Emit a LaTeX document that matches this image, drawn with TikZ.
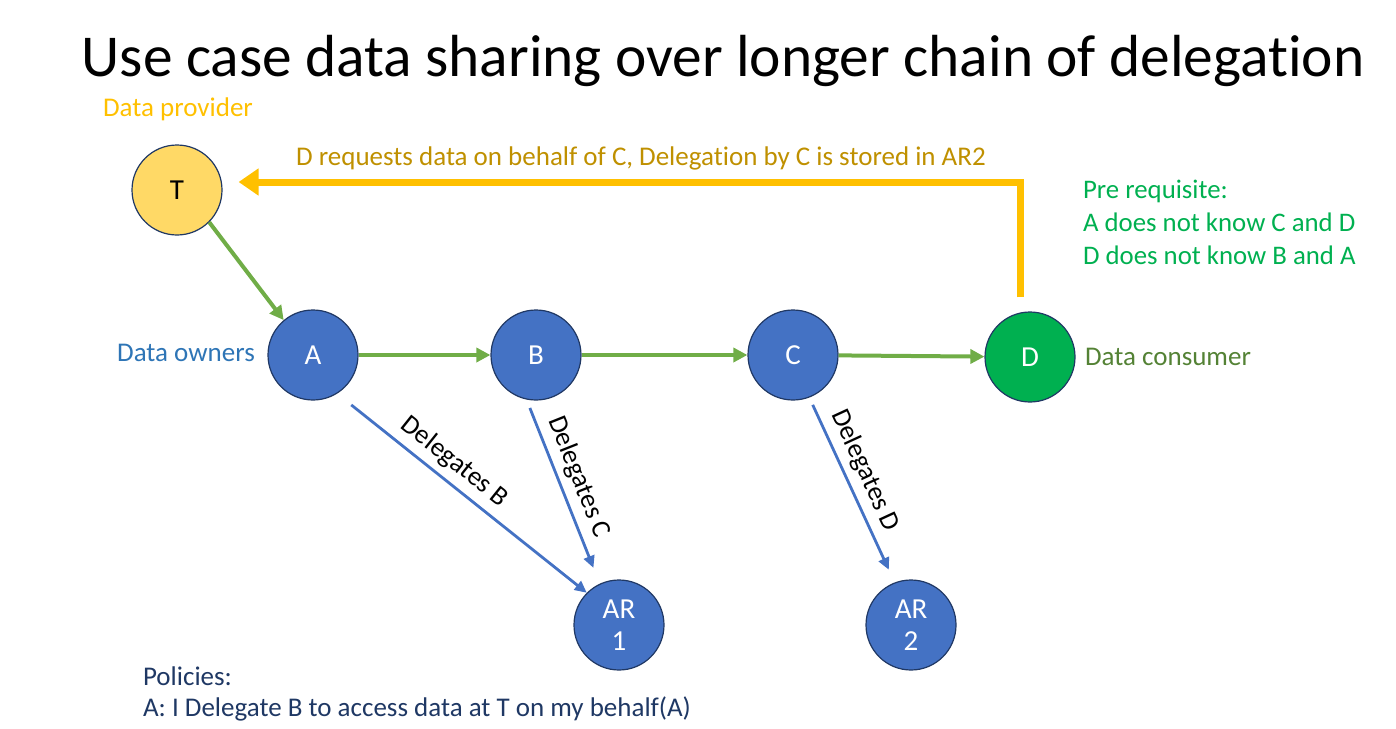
\documentclass[tikz,border=0pt]{standalone}
\usepackage{fontspec}
\setmainfont{Carlito}[Ligatures=NoCommon]
\usetikzlibrary{arrows.meta,calc}
\definecolor{bleu}{HTML}{4472C4}
\definecolor{bordure}{HTML}{203864}
\definecolor{jaune}{HTML}{FFC000}
\definecolor{jaunepale}{HTML}{FFD966}
\definecolor{or}{HTML}{BF9000}
\definecolor{vert}{HTML}{00B050}
\definecolor{vertclair}{HTML}{70AD47}
\definecolor{olive}{HTML}{548235}
\definecolor{bleutexte}{HTML}{2E75B6}
\definecolor{marine}{HTML}{1F3864}
\begin{document}
\begin{tikzpicture}[x=0.5pt,y=-0.5pt]
\tikzset{noeud/.style={draw=bordure, line width=0.6pt, circle, minimum size=45pt, inner sep=0pt, fill=bleu, text=white, font=\fontsize{14.5}{15}\selectfont},
  noeudjaune/.style={noeud, fill=jaunepale, text=black},
  noeudvert/.style={noeud, fill=vert},
  flechevert/.style={draw=vertclair, line width=2pt, -{Triangle[length=7pt,width=7pt]}},
  flechebleu/.style={draw=bleu, line width=1.4pt, -{Triangle[length=6pt,width=5.5pt]}},
  flechejaune/.style={draw=jaune, line width=3.5pt, -{Triangle[length=10pt,width=13pt]}},
  etiquette/.style={font=\fontsize{13.5}{16}\selectfont}}
\useasboundingbox (0,0) rectangle (1396,728);
\node[font=\fontsize{29.7}{34}\selectfont] (titre) at (723,61) {Use case data sharing over longer chain of delegation};
\node[noeudjaune] (T) at (177,190) {T};
\node[noeud] (A) at (313,355) {A};
\node[noeud] (B) at (536,355) {B};
\node[noeud] (C) at (793,355) {C};
\node[noeudvert] (D) at (1030,357) {D};
\node[noeud, align=center, font=\fontsize{14.5}{16}\selectfont] (AR1) at (619,625) {AR\\1};
\node[noeud, align=center, font=\fontsize{14.5}{16}\selectfont] (AR2) at (911,625) {AR\\2};
\node[etiquette, text=jaune] (provider) at (178,109) {Data provider};
\node[etiquette, text=bleutexte] (owners) at (186,353) {Data owners};
\node[etiquette, text=olive] (consumer) at (1168,357) {Data consumer};
\node[etiquette, text=or] (requete) at (641,158) {D requests data on behalf of C, Delegation by C is stored in AR2};
\node[etiquette, text=vert, align=left, anchor=north west, font=\fontsize{13.4}{16.5}\selectfont] (prereq) at (1076,173) {Pre requisite:\\A does not know C and D\\D does not know B and A};
\node[etiquette, text=marine, align=left, anchor=north west, font=\fontsize{13.5}{15.5}\selectfont] (policies) at (136,660) {Policies:\\A: I Delegate B to access data at T on my behalf(A)};
% chaine de delegation
\draw[flechevert] (T.-45) -- (A.130);
\draw[flechevert] (A) -- (B);
\draw[flechevert] (B) -- (C);
\draw[flechevert] (C) -- (D);
\draw[flechebleu, shorten <=9pt] (A.-58) -- node[pos=0.42, sloped, above, etiquette, text=black] {Delegates B} (AR1.135);
\draw[flechebleu, shorten <=4.5pt, shorten >=8.5pt] (B.-102) -- node[pos=0.46, sloped, above, etiquette, text=black] {Delegates C} (AR1.115);
\draw[flechebleu, shorten <=4pt, shorten >=7pt] (C.-69) -- node[pos=0.44, sloped, above, etiquette, text=black] {Delegates D} (AR2.111);
% requete de D vers T
\draw[flechejaune] ($(D.north)+(-10,-14)$) |- ($(T.east)+(16,-8)$);
\end{tikzpicture}
\end{document}
